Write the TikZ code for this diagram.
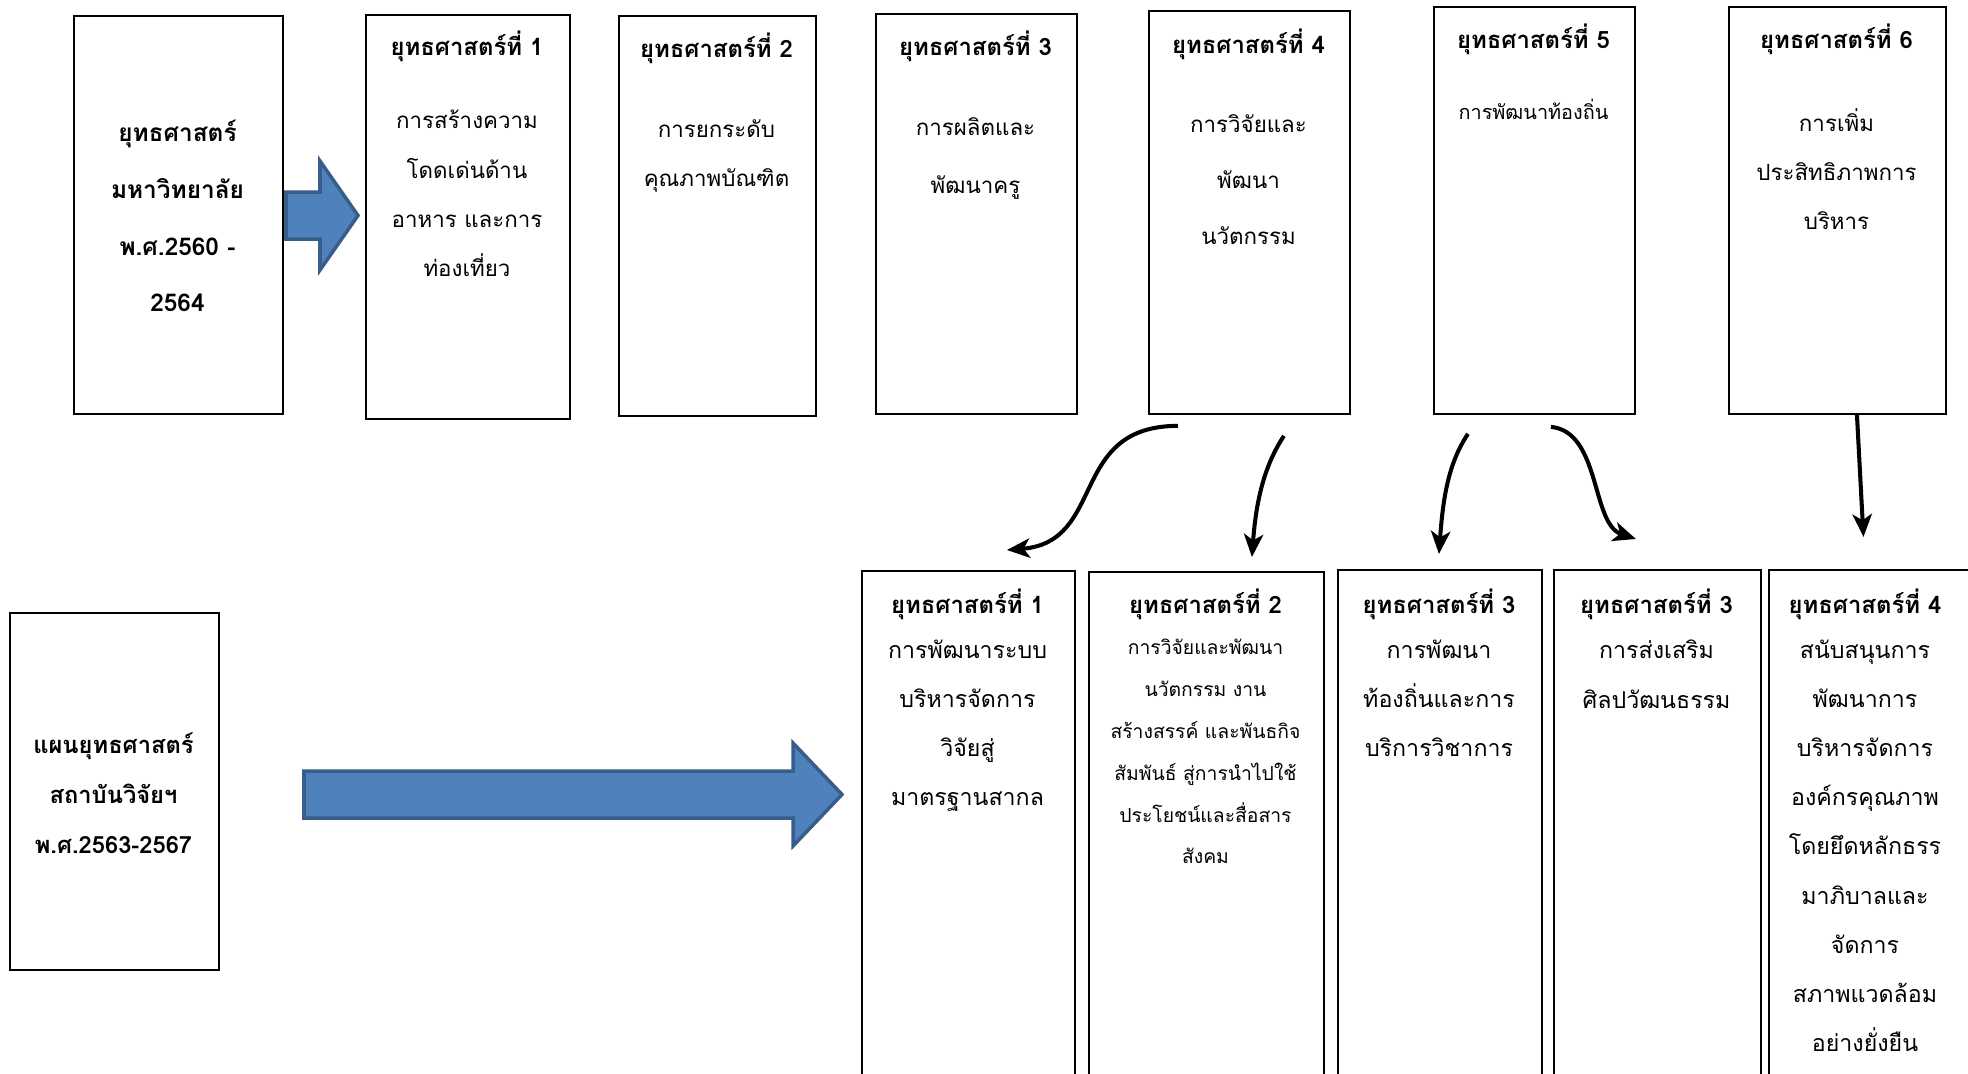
\documentclass[tikz,border=0pt]{standalone}
\usepackage{fontspec}
\setmainfont[Script=Thai]{Loma}
\usetikzlibrary{arrows.meta}
\usetikzlibrary{calc}

\definecolor{arrowfill}{RGB}{79,129,189}
\definecolor{arrowline}{RGB}{56,93,138}

\begin{document}
\begin{tikzpicture}[x=0.02cm, y=-0.02cm,
  stratbox/.style={draw=black, line width=1.1pt, shape=rectangle, anchor=north west, inner sep=0pt},
  headtext/.style={align=center, inner sep=0pt, anchor=north, font=\bfseries\fontsize{13.6pt}{27.9pt}\selectfont},
  toptext/.style={align=center, inner sep=0pt, anchor=north, font=\fontsize{12.7pt}{27.9pt}\selectfont},
  lowtext/.style={align=center, inner sep=0pt, anchor=north, font=\fontsize{13.2pt}{27.9pt}\selectfont},
  curvearrow/.style={line width=2.3pt, -{Stealth[length=13pt, width=11pt, inset=3.5pt]}},
  bluearrow/.style={fill=arrowfill, draw=arrowline, line width=2pt, line join=miter}]

\useasboundingbox (0,0) rectangle (1968,1073);

% university plan and its six strategies
\node (univ) [stratbox, minimum width=4.18cm, minimum height=7.96cm] at (73,15) {};
\node (s1) [stratbox, minimum width=4.08cm, minimum height=8.08cm] at (365,14) {};
\node (s2) [stratbox, minimum width=3.94cm, minimum height=8.0cm] at (618,15) {};
\node (s3) [stratbox, minimum width=4.02cm, minimum height=8.0cm] at (875,13) {};
\node (s4) [stratbox, minimum width=4.02cm, minimum height=8.06cm] at (1148,10) {};
\node (s5) [stratbox, minimum width=4.02cm, minimum height=8.14cm] at (1433,6) {};
\node (s6) [stratbox, minimum width=4.34cm, minimum height=8.14cm] at (1728,6) {};

\node (univtxt) [align=center, inner sep=0pt, font=\bfseries\fontsize{13.9pt}{32.3pt}\selectfont] at (177.5,216) {ยุทธศาสตร์\\มหาวิทยาลัย\\พ.ศ.2560 -\\2564};

\node (s1head) [headtext] at (467,31) {ยุทธศาสตร์ที่ 1};
\node (s1body) [toptext] at (467,110) {การสร้างความ\\โดดเด่นด้าน\\อาหาร และการ\\ท่องเที่ยว};
\node (s2head) [headtext] at (716.5,33) {ยุทธศาสตร์ที่ 2};
\node (s2body) [toptext] at (716.5,119) {การยกระดับ\\คุณภาพบัณฑิต};
\node (s3head) [headtext] at (975.5,31) {ยุทธศาสตร์ที่ 3};
\node (s3body) [toptext] at (975.5,117) {การผลิตและ\\[0.18cm]พัฒนาครู};
\node (s4head) [headtext] at (1248.5,29) {ยุทธศาสตร์ที่ 4};
\node (s4body) [toptext] at (1248.5,114) {การวิจัยและ\\[0.14cm]พัฒนา\\[0.14cm]นวัตกรรม};
\node (s5head) [headtext] at (1533.5,24) {ยุทธศาสตร์ที่ 5};
\node (s5body) [toptext, font=\fontsize{11.3pt}{24pt}\selectfont] at (1533.5,99) {การพัฒนาท้องถิ่น};
\node (s6head) [headtext] at (1836.5,24) {ยุทธศาสตร์ที่ 6};
\node (s6body) [toptext] at (1836.5,108) {การเพิ่ม\\ประสิทธิภาพการ\\บริหาร};

% institute plan and its strategies
\node (inst) [stratbox, minimum width=4.18cm, minimum height=7.14cm] at (9,612) {};
\node (t1) [stratbox, minimum width=4.26cm, minimum height=10.4cm] at (861,570) {};
\node (t2) [stratbox, minimum width=4.7cm, minimum height=10.4cm] at (1088,571) {};
\node (t3) [stratbox, minimum width=4.08cm, minimum height=10.4cm] at (1337,569) {};
\node (t4) [stratbox, minimum width=4.14cm, minimum height=10.4cm] at (1553,569) {};
\node (t5) [stratbox, minimum width=4.14cm, minimum height=10.4cm] at (1768,569) {};

\node (insttxt) [align=center, inner sep=0pt, font=\bfseries\fontsize{13.5pt}{28.4pt}\selectfont] at (113.5,793) {แผนยุทธศาสตร์\\สถาบันวิจัยฯ\\พ.ศ.2563-2567};

\node (t1head) [headtext] at (967.5,589) {ยุทธศาสตร์ที่ 1};
\node (t1body) [lowtext] at (967.5,640) {การพัฒนาระบบ\\บริหารจัดการ\\วิจัยสู่\\มาตรฐานสากล};
\node (t2head) [headtext] at (1205.5,589) {ยุทธศาสตร์ที่ 2};
\node (t2body) [lowtext, font=\fontsize{11pt}{23.8pt}\selectfont] at (1205.5,639) {การวิจัยและพัฒนา\\นวัตกรรม งาน\\สร้างสรรค์ และพันธกิจ\\สัมพันธ์ สู่การนำไปใช้\\ประโยชน์และสื่อสาร\\สังคม};
\node (t3head) [headtext] at (1439,589) {ยุทธศาสตร์ที่ 3};
\node (t3body) [lowtext] at (1439,640) {การพัฒนา\\ท้องถิ่นและการ\\บริการวิชาการ};
\node (t4head) [headtext] at (1656.5,589) {ยุทธศาสตร์ที่ 3};
\node (t4body) [lowtext] at (1656.5,640) {การส่งเสริม\\ศิลปวัฒนธรรม};
\node (t5head) [headtext] at (1865,589) {ยุทธศาสตร์ที่ 4};
\node (t5body) [lowtext] at (1865,640) {สนับสนุนการ\\พัฒนาการ\\บริหารจัดการ\\องค์กรคุณภาพ\\โดยยึดหลักธรร\\มาภิบาลและ\\จัดการ\\สภาพแวดล้อม\\อย่างยั่งยืน};

% block arrows
\draw[bluearrow] (286,192) -- (320,192) -- (320,161) -- (358,215.5) -- (320,270) -- (320,239) -- (286,239) -- cycle;
\draw[bluearrow] (304,771) -- (793,771) -- (793,743) -- (842,794.5) -- (793,846) -- (793,818) -- (304,818) -- cycle;

% links between the two plans
\draw[curvearrow] ($(s4.south)+(-71.5,11)$) .. controls +(-110,0) and +(100,-8) .. ($(t1.north)+(38.5,-20)$);
\draw[curvearrow] ($(s4.south)+(34.5,21)$) .. controls +(-20,30) and +(4,-55) .. ($(t2.north)+(45.5,-14)$);
\draw[curvearrow] ($(s5.south)+(-66.5,19)$) .. controls +(-20,30) and +(4,-55) .. ($(t3.north)+(-1,-15)$);
\draw[curvearrow] ($(s5.south)+(16.5,12)$) .. controls +(50,5) and +(-45,-15) .. ($(t4.north)+(-21.5,-30)$);
\draw[curvearrow] ($(s6.south)+(19.5,0)$) -- ($(t5.north)+(-9,-32)$);

\end{tikzpicture}
\end{document}
